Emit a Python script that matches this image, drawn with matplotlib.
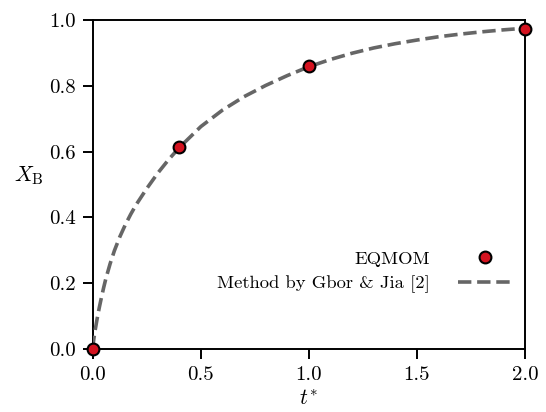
import matplotlib
matplotlib.use("Agg")
import matplotlib.pyplot as plt

plt.rcParams["font.family"] = "serif"
plt.rcParams["font.serif"] = ["cmr10", "DejaVu Serif"]
plt.rcParams["mathtext.fontset"] = "cm"
plt.rcParams["axes.formatter.use_mathtext"] = True

# EQMOM results
t_eqmom = [0.0, 0.4, 1.0, 2.0]
x_eqmom = [0.0, 0.614, 0.860, 0.974]

# Reference solution (Gbor & Jia)
t_ref = [0.0, 0.002, 0.005, 0.01, 0.02, 0.03, 0.04, 0.05, 0.06, 0.08, 0.10,
         0.125, 0.15, 0.175, 0.20, 0.25, 0.30, 0.35, 0.40, 0.5, 0.6, 0.7,
         0.8, 0.9, 1.0, 1.1, 1.2, 1.3, 1.4, 1.5, 1.6, 1.7, 1.8, 1.9, 2.0]
x_ref = [0.0, 0.016, 0.032, 0.054, 0.092, 0.126, 0.157, 0.186, 0.213, 0.259,
         0.299, 0.341, 0.377, 0.409, 0.438, 0.488, 0.534, 0.575, 0.612, 0.676,
         0.726, 0.767, 0.801, 0.831, 0.858, 0.880, 0.899, 0.915, 0.928, 0.939,
         0.949, 0.957, 0.964, 0.970, 0.975]

xticks = [0.0, 0.5, 1.0, 1.5, 2.0]
yticks = [0.0, 0.2, 0.4, 0.6, 0.8, 1.0]

fig = plt.figure(figsize=(5.46, 4.12), dpi=100)
ax = fig.add_axes([0.170, 0.153, 0.7915, 0.7985])

ax.plot(t_eqmom, x_eqmom, linestyle="none", marker="o", markersize=8.5,
        markerfacecolor="#d41320", markeredgecolor="black",
        markeredgewidth=1.5, clip_on=False, zorder=5, label="EQMOM")
ax.plot(t_ref, x_ref, linestyle="--", color="#666666", linewidth=2.6,
        zorder=4, label="Method by Gbor & Jia [2]")

ax.set_xlim(0, 2)
ax.set_ylim(0, 1)
ax.set_xticks(xticks)
ax.set_yticks(yticks)
ax.set_xticklabels([f"{v:.1f}" for v in xticks])
ax.set_yticklabels([f"{v:.1f}" for v in yticks])

ax.tick_params(labelsize=15, length=7, width=1.4, direction="out")
ax.tick_params(axis="y", pad=5.5)
ax.tick_params(axis="x", pad=5.0)
for sp in ax.spines.values():
    sp.set_linewidth(1.4)

ax.set_xlabel(r"$t^{*}$", fontsize=15.5, labelpad=4)
ax.set_ylabel(r"$X_{\mathrm{B}}$", fontsize=15.5, rotation=0, va="center")
ax.yaxis.set_label_coords(-0.148, 0.526)

ax.legend(loc="lower right", bbox_to_anchor=(1.0, 0.13), frameon=False,
          markerfirst=False, fontsize=13.4, handlelength=2.9,
          handletextpad=1.5, labelspacing=0.45, borderaxespad=0.3)

fig.savefig("out.png", dpi=100)
